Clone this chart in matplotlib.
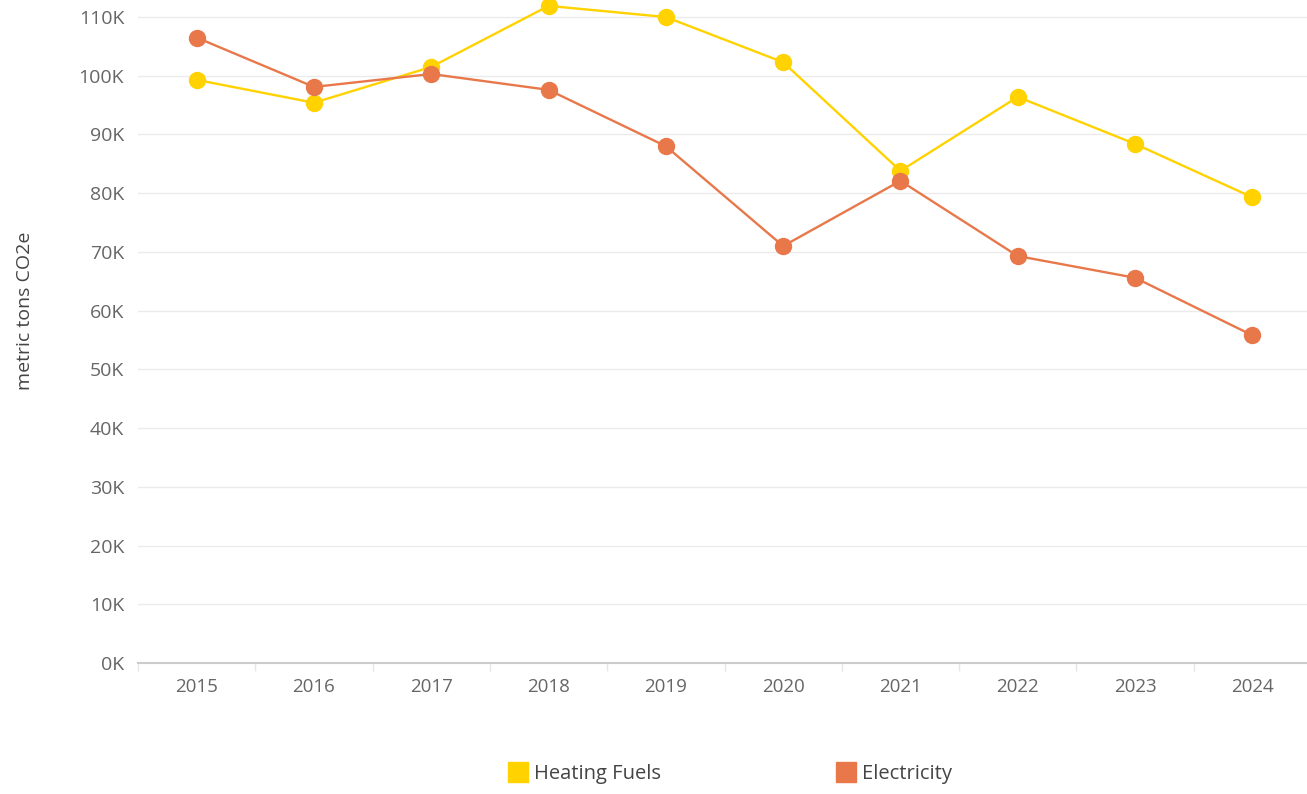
import matplotlib
matplotlib.use("Agg")
import matplotlib.pyplot as plt
from matplotlib.lines import Line2D

years = ["2015", "2016", "2017", "2018", "2019", "2020", "2021", "2022", "2023", "2024"]
heating_fuels = [99.3, 95.4, 101.5, 111.9, 110.0, 102.3, 83.8, 96.4, 88.4, 79.3]
electricity = [106.5, 98.1, 100.3, 97.6, 88.0, 71.0, 82.1, 69.3, 65.6, 55.8]
yticks = [0, 10, 20, 30, 40, 50, 60, 70, 80, 90, 100, 110]
ytick_labels = [f"{v}K" for v in yticks]

YELLOW = "#FFD200"
ORANGE = "#E8784A"
TXT = "#666666"

plt.rcParams['font.family'] = ['Open Sans', 'DejaVu Sans']

W, H = 1307, 794
fig = plt.figure(figsize=(W / 100, H / 100), dpi=100)
ax = fig.add_axes([138 / W, (H - 663) / H, (1311 - 138) / W, 663 / H])

x = list(range(len(years)))
ax.plot(x, heating_fuels, color=YELLOW, lw=1.7, marker='o', ms=11.5, clip_on=False, zorder=3)
ax.plot(x, electricity, color=ORANGE, lw=1.7, marker='o', ms=11.5, clip_on=False, zorder=3)

ax.set_xlim(-0.5, len(years) - 0.5)
ax.set_ylim(0, 112.9)
ax.set_yticks(yticks)
ax.set_yticklabels(ytick_labels)
ax.set_xticks(x)
ax.set_xticklabels(years)
ax.set_xticks([i + 0.5 for i in range(-1, len(years))], minor=True)

ax.grid(axis='y', color='#EBEBEB', lw=1)
ax.set_axisbelow(True)
for s in ['top', 'right', 'left']:
    ax.spines[s].set_visible(False)
ax.spines['bottom'].set_color('#CCCCCC')
ax.spines['bottom'].set_linewidth(1.5)

ax.tick_params(axis='y', length=0, pad=10, labelsize=14, labelcolor=TXT)
ax.tick_params(axis='x', which='major', length=0, pad=11, labelsize=13.5, labelcolor=TXT)
ax.tick_params(axis='x', which='minor', length=6, color='#E6E6E6', width=1)

fig.text(25 / W, 1 - 311 / H, "metric tons CO2e", rotation=90, ha='center', va='center',
         fontsize=14, color='#444444')

handles = [Line2D([], [], ls='none', marker='s', ms=14.5, color=YELLOW),
           Line2D([], [], ls='none', marker='s', ms=14.5, color=ORANGE)]
leg = fig.legend(handles, ["Heating Fuels", "Electricity"], loc='center',
                 bbox_to_anchor=(731 / W, 1 - 774 / H), ncol=2, frameon=False,
                 fontsize=14.5, handlelength=0.8, handletextpad=0.4, columnspacing=8.8)
for t in leg.get_texts():
    t.set_color('#444444')

fig.savefig("out.png", dpi=100)
